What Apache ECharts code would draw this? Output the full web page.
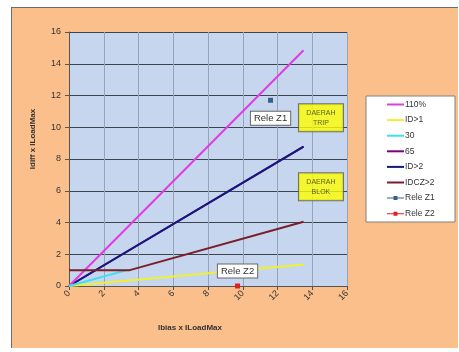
<!DOCTYPE html>
<html>
<head>
<meta charset="utf-8">
<script src="https://cdn.jsdelivr.net/npm/echarts@6/dist/echarts.min.js"></script>
<style>
  html, body { margin: 0; padding: 0; background: #fff; }
  #frame { position: absolute; left: 11px; top: 7px; width: 446px; height: 340px;
           background: #fbbf8c; border-left: 1px solid #6b6b6b; border-top: 1px solid #6b6b6b; }
  #chart { position: absolute; left: 0; top: 0; width: 459px; height: 352px; }
</style>
</head>
<body>
<div id="frame"></div>
<div id="chart"></div>
<script>
// garis karakteristik [ibias, idiff]
var line110 = [[0, 0], [13.5, 14.85]];
var lineId1 = [[0, 0], [13.5, 1.35]];
var line30 = [[0, 0], [3.33, 1.0]];
var line65 = [[0, 0], [13.5, 8.78]];
var lineId2 = [[0, 0], [13.5, 8.78]];
var lineIdcz2 = [[0, 1], [3.5, 1], [13.5, 4.05]];
var releZ1 = [[11.6, 11.7]];
var releZ2 = [[9.7, 0]];
var zoneTrip = [[14.5, 10.6]];
var zoneBlok = [[14.5, 6.25]];
var lineNames = ['110%', 'ID>1', '30', '65', 'ID>2', 'IDCZ>2'];
var pointNames = ['Rele Z1', 'Rele Z2'];

var myChart = echarts.init(document.getElementById('chart'));

var iconGaris = 'path://M0,4 L17,4 L17,6 L0,6 Z';
var iconTitik = 'path://M0,4.5 L6.5,4.5 L6.5,3 L10.5,3 L10.5,4.5 L17,4.5 L17,5.5 L10.5,5.5 L10.5,7 L6.5,7 L6.5,5.5 L0,5.5 Z';

function garis(name, data, color) {
    return {
        name: name,
        type: 'line',
        data: data,
        symbol: 'none',
        lineStyle: {width: 2, color: color},
        itemStyle: {color: color},
        silent: true
    };
}

var zoneLabel = {
    show: true,
    position: 'inside',
    backgroundColor: '#ffff00',
    borderColor: '#555',
    borderWidth: 1,
    width: 36,
    height: 21,
    padding: [3, 4],
    align: 'center',
    verticalAlign: 'middle',
    lineHeight: 10,
    fontSize: 7,
    fontFamily: 'Liberation Sans',
    color: '#3a3a20'
};

var legendData = lineNames.map(function (n) {
    return {name: n, icon: iconGaris};
}).concat(pointNames.map(function (n) {
    return {name: n, icon: iconTitik};
}));

var option = {
    animation: false,
    textStyle: {fontFamily: 'Liberation Sans'},
    grid: {left: 69, top: 32, right: 112, bottom: 66, show: true, backgroundColor: '#c6d6ee', borderWidth: 0},
    graphic: [
        {type: 'rect', shape: {x: 366, y: 96, width: 89, height: 126},
         style: {fill: '#fff', stroke: '#808080', lineWidth: 1}, z: -1},
        {type: 'text', x: 33, y: 139, rotation: Math.PI / 2,
         style: {text: 'Idiff x ILoadMax', fontSize: 8, fontWeight: 'bold', fill: '#333',
                 align: 'center', verticalAlign: 'middle', fontFamily: 'Liberation Sans'}},
        {type: 'text', x: 190, y: 328,
         style: {text: 'Ibias x ILoadMax', fontSize: 8, fontWeight: 'bold', fill: '#333',
                 align: 'center', verticalAlign: 'middle', fontFamily: 'Liberation Sans'}}
    ],
    legend: {
        data: legendData,
        orient: 'vertical',
        left: 387,
        top: 100,
        itemWidth: 17,
        itemHeight: 10,
        itemGap: 6.6,
        padding: 0,
        textStyle: {fontSize: 8.5, color: '#333', padding: [0, 0, 0, -4]}
    },
    xAxis: {
        type: 'value', min: 0, max: 16, interval: 2,
        axisLine: {lineStyle: {color: '#555'}},
        axisTick: {show: true, length: 4, lineStyle: {color: '#555'}},
        axisLabel: {rotate: 45, fontSize: 9, color: '#333', margin: 6},
        splitLine: {lineStyle: {color: '#97a3b8', width: 1}}
    },
    yAxis: {
        type: 'value', min: 0, max: 16, interval: 2,
        axisLine: {show: true, lineStyle: {color: '#555'}},
        axisTick: {show: true, length: 4, lineStyle: {color: '#555'}},
        axisLabel: {fontSize: 9, color: '#333', margin: 8},
        splitLine: {lineStyle: {color: '#3f4550', width: 1}}
    },
    series: [
        garis('65', line65, '#800080'),
        garis('ID>2', lineId2, '#101a80'),
        garis('110%', line110, '#e03ce0'),
        garis('ID>1', lineId1, '#f0f030'),
        garis('30', line30, '#3ce0f0'),
        garis('IDCZ>2', lineIdcz2, '#7a1e28'),
        {
            name: 'Rele Z1', type: 'line', data: releZ1,
            symbol: 'rect', symbolSize: 5, showSymbol: true,
            lineStyle: {color: '#9fb0d0', width: 1},
            itemStyle: {color: '#3a5e8c'},
            label: {show: true, formatter: 'Rele Z1', position: 'bottom', distance: 9,
                    backgroundColor: '#fff', borderColor: '#666', borderWidth: 1,
                    padding: [2, 3, 1, 3], fontSize: 9.5, color: '#333'}
        },
        {
            name: 'Rele Z2', type: 'line', data: releZ2,
            symbol: 'rect', symbolSize: 5, showSymbol: true,
            lineStyle: {color: '#f090a0', width: 1},
            itemStyle: {color: '#e02020'},
            label: {show: true, formatter: 'Rele Z2', position: 'top', distance: 6,
                    backgroundColor: '#fff', borderColor: '#666', borderWidth: 1,
                    padding: [2, 3, 1, 3], fontSize: 9.5, color: '#333'}
        },
        {
            name: 'trip', type: 'scatter', data: zoneTrip, symbolSize: 0, silent: true,
            label: Object.assign({formatter: 'DAERAH\nTRIP'}, zoneLabel)
        },
        {
            name: 'blok', type: 'scatter', data: zoneBlok, symbolSize: 0, silent: true,
            label: Object.assign({formatter: 'DAERAH\nBLOK'}, zoneLabel)
        }
    ]
};
myChart.setOption(option);
window.addEventListener('resize', function () {
    myChart.resize();
});
</script>
</body>
</html>
